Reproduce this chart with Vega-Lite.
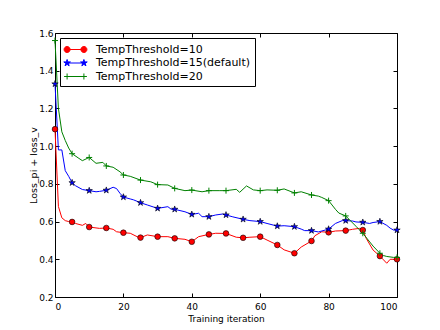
{
 "$schema": "https://vega.github.io/schema/vega-lite/v6.json",
 "autosize": {"type": "none"},
 "width": 342, "height": 264,
 "padding": {"left": 55, "top": 33, "right": 43, "bottom": 33},
 "background": "white",
 "config": {
  "font": "DejaVu Sans",
  "view": {"stroke": "#000", "strokeWidth": 1},
  "axis": {"grid": false, "domain": false, "tickColor": "#000", "tickSize": -4, "labelFont": "DejaVu Sans", "labelFontSize": 9, "labelColor": "#000", "titleFont": "DejaVu Sans", "titleFontSize": 9, "titleFontWeight": "normal", "titleColor": "#000"}
 },
 "data": {"values": [
  {"s":"TempThreshold=10","it":0,"v":1.09},{"s":"TempThreshold=10","it":1,"v":0.68},{"s":"TempThreshold=10","it":2,"v":0.62},{"s":"TempThreshold=10","it":3,"v":0.605},{"s":"TempThreshold=10","it":4,"v":0.60},{"s":"TempThreshold=10","it":5,"v":0.598},{"s":"TempThreshold=10","it":6,"v":0.59},{"s":"TempThreshold=10","it":8,"v":0.58},{"s":"TempThreshold=10","it":9,"v":0.59},{"s":"TempThreshold=10","it":10,"v":0.571},{"s":"TempThreshold=10","it":13,"v":0.564},{"s":"TempThreshold=10","it":15,"v":0.566},{"s":"TempThreshold=10","it":17,"v":0.559},{"s":"TempThreshold=10","it":18,"v":0.546},{"s":"TempThreshold=10","it":20,"v":0.541},{"s":"TempThreshold=10","it":22,"v":0.538},{"s":"TempThreshold=10","it":24,"v":0.52},{"s":"TempThreshold=10","it":25,"v":0.515},{"s":"TempThreshold=10","it":27,"v":0.529},{"s":"TempThreshold=10","it":30,"v":0.52},{"s":"TempThreshold=10","it":33,"v":0.52},{"s":"TempThreshold=10","it":35,"v":0.511},{"s":"TempThreshold=10","it":38,"v":0.506},{"s":"TempThreshold=10","it":40,"v":0.493},{"s":"TempThreshold=10","it":42,"v":0.52},{"s":"TempThreshold=10","it":45,"v":0.532},{"s":"TempThreshold=10","it":47,"v":0.538},{"s":"TempThreshold=10","it":50,"v":0.537},{"s":"TempThreshold=10","it":53,"v":0.517},{"s":"TempThreshold=10","it":55,"v":0.514},{"s":"TempThreshold=10","it":57,"v":0.517},{"s":"TempThreshold=10","it":60,"v":0.52},{"s":"TempThreshold=10","it":62,"v":0.502},{"s":"TempThreshold=10","it":65,"v":0.476},{"s":"TempThreshold=10","it":67,"v":0.45},{"s":"TempThreshold=10","it":70,"v":0.432},{"s":"TempThreshold=10","it":72,"v":0.465},{"s":"TempThreshold=10","it":75,"v":0.497},{"s":"TempThreshold=10","it":76,"v":0.525},{"s":"TempThreshold=10","it":78,"v":0.546},{"s":"TempThreshold=10","it":80,"v":0.543},{"s":"TempThreshold=10","it":82,"v":0.55},{"s":"TempThreshold=10","it":85,"v":0.552},{"s":"TempThreshold=10","it":87,"v":0.559},{"s":"TempThreshold=10","it":89,"v":0.564},{"s":"TempThreshold=10","it":90,"v":0.555},{"s":"TempThreshold=10","it":91,"v":0.511},{"s":"TempThreshold=10","it":93,"v":0.449},{"s":"TempThreshold=10","it":95,"v":0.417},{"s":"TempThreshold=10","it":97,"v":0.379},{"s":"TempThreshold=10","it":98,"v":0.40},{"s":"TempThreshold=10","it":100,"v":0.40},
  {"s":"TempThreshold=15(default)","it":0,"v":1.33},{"s":"TempThreshold=15(default)","it":1,"v":0.98},{"s":"TempThreshold=15(default)","it":2,"v":0.98},{"s":"TempThreshold=15(default)","it":3,"v":0.87},{"s":"TempThreshold=15(default)","it":4,"v":0.84},{"s":"TempThreshold=15(default)","it":5,"v":0.806},{"s":"TempThreshold=15(default)","it":6,"v":0.79},{"s":"TempThreshold=15(default)","it":8,"v":0.77},{"s":"TempThreshold=15(default)","it":10,"v":0.764},{"s":"TempThreshold=15(default)","it":12,"v":0.758},{"s":"TempThreshold=15(default)","it":13,"v":0.76},{"s":"TempThreshold=15(default)","it":15,"v":0.766},{"s":"TempThreshold=15(default)","it":17,"v":0.782},{"s":"TempThreshold=15(default)","it":18,"v":0.775},{"s":"TempThreshold=15(default)","it":19,"v":0.75},{"s":"TempThreshold=15(default)","it":20,"v":0.73},{"s":"TempThreshold=15(default)","it":22,"v":0.72},{"s":"TempThreshold=15(default)","it":23,"v":0.715},{"s":"TempThreshold=15(default)","it":25,"v":0.70},{"s":"TempThreshold=15(default)","it":27,"v":0.688},{"s":"TempThreshold=15(default)","it":29,"v":0.676},{"s":"TempThreshold=15(default)","it":30,"v":0.67},{"s":"TempThreshold=15(default)","it":33,"v":0.679},{"s":"TempThreshold=15(default)","it":34,"v":0.665},{"s":"TempThreshold=15(default)","it":35,"v":0.665},{"s":"TempThreshold=15(default)","it":38,"v":0.652},{"s":"TempThreshold=15(default)","it":40,"v":0.638},{"s":"TempThreshold=15(default)","it":42,"v":0.644},{"s":"TempThreshold=15(default)","it":43,"v":0.626},{"s":"TempThreshold=15(default)","it":45,"v":0.626},{"s":"TempThreshold=15(default)","it":47,"v":0.635},{"s":"TempThreshold=15(default)","it":49,"v":0.64},{"s":"TempThreshold=15(default)","it":50,"v":0.635},{"s":"TempThreshold=15(default)","it":52,"v":0.625},{"s":"TempThreshold=15(default)","it":55,"v":0.612},{"s":"TempThreshold=15(default)","it":57,"v":0.605},{"s":"TempThreshold=15(default)","it":60,"v":0.60},{"s":"TempThreshold=15(default)","it":62,"v":0.59},{"s":"TempThreshold=15(default)","it":65,"v":0.576},{"s":"TempThreshold=15(default)","it":67,"v":0.578},{"s":"TempThreshold=15(default)","it":70,"v":0.573},{"s":"TempThreshold=15(default)","it":72,"v":0.56},{"s":"TempThreshold=15(default)","it":73,"v":0.552},{"s":"TempThreshold=15(default)","it":75,"v":0.552},{"s":"TempThreshold=15(default)","it":77,"v":0.545},{"s":"TempThreshold=15(default)","it":79,"v":0.555},{"s":"TempThreshold=15(default)","it":80,"v":0.56},{"s":"TempThreshold=15(default)","it":82,"v":0.59},{"s":"TempThreshold=15(default)","it":84,"v":0.605},{"s":"TempThreshold=15(default)","it":85,"v":0.605},{"s":"TempThreshold=15(default)","it":87,"v":0.603},{"s":"TempThreshold=15(default)","it":88,"v":0.598},{"s":"TempThreshold=15(default)","it":90,"v":0.596},{"s":"TempThreshold=15(default)","it":92,"v":0.59},{"s":"TempThreshold=15(default)","it":93,"v":0.595},{"s":"TempThreshold=15(default)","it":95,"v":0.60},{"s":"TempThreshold=15(default)","it":97,"v":0.58},{"s":"TempThreshold=15(default)","it":98,"v":0.565},{"s":"TempThreshold=15(default)","it":99,"v":0.555},{"s":"TempThreshold=15(default)","it":100,"v":0.555},
  {"s":"TempThreshold=20","it":0,"v":1.56},{"s":"TempThreshold=20","it":1,"v":1.2},{"s":"TempThreshold=20","it":2,"v":1.076},{"s":"TempThreshold=20","it":3,"v":1.03},{"s":"TempThreshold=20","it":4,"v":0.99},{"s":"TempThreshold=20","it":5,"v":0.96},{"s":"TempThreshold=20","it":7,"v":0.935},{"s":"TempThreshold=20","it":8,"v":0.923},{"s":"TempThreshold=20","it":10,"v":0.94},{"s":"TempThreshold=20","it":12,"v":0.909},{"s":"TempThreshold=20","it":14,"v":0.914},{"s":"TempThreshold=20","it":15,"v":0.895},{"s":"TempThreshold=20","it":17,"v":0.888},{"s":"TempThreshold=20","it":19,"v":0.864},{"s":"TempThreshold=20","it":20,"v":0.847},{"s":"TempThreshold=20","it":22,"v":0.84},{"s":"TempThreshold=20","it":25,"v":0.82},{"s":"TempThreshold=20","it":28,"v":0.811},{"s":"TempThreshold=20","it":30,"v":0.796},{"s":"TempThreshold=20","it":33,"v":0.794},{"s":"TempThreshold=20","it":35,"v":0.776},{"s":"TempThreshold=20","it":38,"v":0.764},{"s":"TempThreshold=20","it":40,"v":0.767},{"s":"TempThreshold=20","it":43,"v":0.758},{"s":"TempThreshold=20","it":45,"v":0.764},{"s":"TempThreshold=20","it":48,"v":0.764},{"s":"TempThreshold=20","it":50,"v":0.764},{"s":"TempThreshold=20","it":53,"v":0.771},{"s":"TempThreshold=20","it":54,"v":0.755},{"s":"TempThreshold=20","it":56,"v":0.789},{"s":"TempThreshold=20","it":58,"v":0.768},{"s":"TempThreshold=20","it":60,"v":0.764},{"s":"TempThreshold=20","it":62,"v":0.768},{"s":"TempThreshold=20","it":65,"v":0.766},{"s":"TempThreshold=20","it":67,"v":0.773},{"s":"TempThreshold=20","it":70,"v":0.752},{"s":"TempThreshold=20","it":72,"v":0.758},{"s":"TempThreshold=20","it":75,"v":0.741},{"s":"TempThreshold=20","it":77,"v":0.735},{"s":"TempThreshold=20","it":78,"v":0.728},{"s":"TempThreshold=20","it":80,"v":0.711},{"s":"TempThreshold=20","it":82,"v":0.665},{"s":"TempThreshold=20","it":83,"v":0.645},{"s":"TempThreshold=20","it":85,"v":0.63},{"s":"TempThreshold=20","it":88,"v":0.575},{"s":"TempThreshold=20","it":90,"v":0.538},{"s":"TempThreshold=20","it":93,"v":0.47},{"s":"TempThreshold=20","it":95,"v":0.432},{"s":"TempThreshold=20","it":96,"v":0.42},{"s":"TempThreshold=20","it":97,"v":0.415},{"s":"TempThreshold=20","it":99,"v":0.41},{"s":"TempThreshold=20","it":100,"v":0.41}
 ]},
 "layer": [
  {
   "mark": {"type": "line", "strokeWidth": 1},
   "encoding": {
    "x": {"field": "it", "type": "quantitative", "scale": {"domain": [0, 100], "nice": false}, "axis": {"values": [0, 20, 40, 60, 80, 100], "title": "Training iteration", "labelPadding": 9, "titlePadding": 3}},
    "y": {"field": "v", "type": "quantitative", "scale": {"domain": [0.2, 1.6], "nice": false, "zero": false}, "axis": {"values": [0.2, 0.4, 0.6, 0.8, 1.0, 1.2, 1.4, 1.6], "format": ".1f", "title": "Loss_pi + loss_v", "titleFontSize": 9.5, "labelPadding": 6, "titlePadding": 0}},
    "color": {"field": "s", "type": "nominal", "scale": {"domain": ["TempThreshold=10", "TempThreshold=15(default)", "TempThreshold=20"], "range": ["#ff0000", "#0000ff", "#008000"]},
     "legend": {"title": null, "orient": "top-left", "offset": 5, "strokeColor": "#000", "fillColor": "#fff", "padding": 4, "labelFont": "DejaVu Sans", "labelFontSize": 11, "labelLimit": 400, "labelColor": "#000", "symbolSize": 196, "symbolStrokeWidth": 1, "symbolOffset": 4, "rowPadding": 0.5, "labelOffset": 13,
      "encode": {"symbols": {"update": {
       "shape": {"signal": "datum.value === 'TempThreshold=10' ? 'M-1.2,0L1.2,0M-0.77,0A0.43,0.43 0 1,1 -1.63,0A0.43,0.43 0 1,1 -0.77,0ZM1.63,0A0.43,0.43 0 1,1 0.77,0A0.43,0.43 0 1,1 1.63,0Z' : datum.value === 'TempThreshold=20' ? 'M-1.2,0L1.2,0M-1.63,0L-0.77,0M-1.2,-0.43L-1.2,0.43M0.77,0L1.63,0M1.2,-0.43L1.2,0.43' : 'M-1.2,0L1.2,0M-1.2,-0.5L-1.088,-0.155L-0.724,-0.155L-1.018,0.059L-0.906,0.405L-1.2,0.191L-1.494,0.405L-1.382,0.059L-1.676,-0.155L-1.312,-0.155ZM1.2,-0.5L1.312,-0.155L1.676,-0.155L1.382,0.059L1.494,0.405L1.2,0.191L0.906,0.405L1.018,0.059L0.724,-0.155L1.088,-0.155Z'"},
       "fill": {"signal": "scale('color', datum.value)"},
       "stroke": {"signal": "scale('color', datum.value)"},
       "opacity": {"value": 1}
      }}}
     }}
   }
  },
  {
   "transform": [{"filter": "datum.s === 'TempThreshold=10' && datum.it % 5 === 0"}],
   "mark": {"type": "point", "shape": "circle", "filled": true, "fill": "#ff0000", "stroke": "#000", "strokeWidth": 0.6, "size": 32, "opacity": 1},
   "encoding": {
    "x": {"field": "it", "type": "quantitative", "axis": {"orient": "top", "values": [0, 20, 40, 60, 80, 100], "labels": false, "title": null}},
    "y": {"field": "v", "type": "quantitative", "axis": {"orient": "right", "values": [0.2, 0.4, 0.6, 0.8, 1.0, 1.2, 1.4, 1.6], "labels": false, "title": null}}
   }
  },
  {
   "transform": [{"filter": "datum.s === 'TempThreshold=15(default)' && datum.it % 5 === 0"}],
   "mark": {"type": "point", "shape": "M0,-1L0.2245,-0.309L0.951,-0.309L0.363,0.118L0.588,0.809L0,0.382L-0.588,0.809L-0.363,0.118L-0.951,-0.309L-0.2245,-0.309Z", "filled": true, "fill": "#0000ff", "stroke": "#000", "strokeWidth": 0.6, "size": 45, "opacity": 1},
   "encoding": {
    "x": {"field": "it", "type": "quantitative", "axis": null},
    "y": {"field": "v", "type": "quantitative", "axis": null}
   }
  },
  {
   "transform": [{"filter": "datum.s === 'TempThreshold=20' && datum.it % 5 === 0"}],
   "mark": {"type": "point", "shape": "M-1,0L1,0M0,-1L0,1", "filled": false, "stroke": "#008000", "strokeWidth": 1, "size": 36, "opacity": 1},
   "encoding": {
    "x": {"field": "it", "type": "quantitative", "axis": null},
    "y": {"field": "v", "type": "quantitative", "axis": null}
   }
  }
 ],
 "resolve": {"axis": {"x": "independent", "y": "independent"}}
}
